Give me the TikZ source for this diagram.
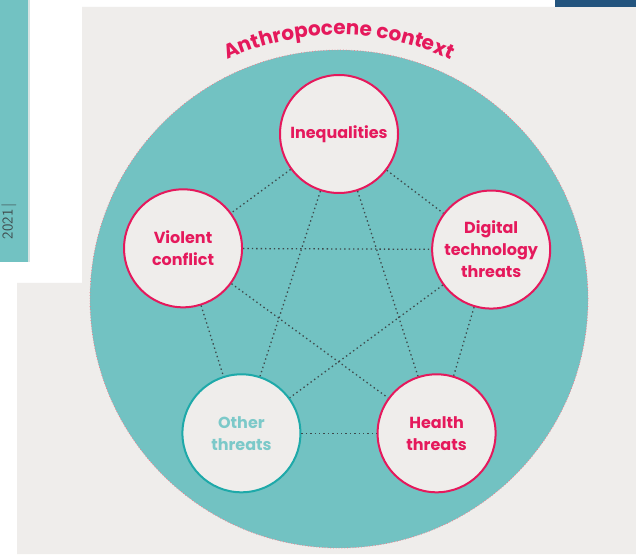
\documentclass[tikz,border=0pt]{standalone}
\usepackage{fontspec}
\setmainfont{Poppins}
\usetikzlibrary{calc,decorations.text}

\definecolor{magred}{HTML}{E5195C}
\definecolor{seateal}{HTML}{72C2C2}
\definecolor{ringteal}{HTML}{1EA9A9}
\definecolor{othertxt}{HTML}{7CC9C9}
\definecolor{paper}{HTML}{EFEDEB}
\definecolor{linegray}{HTML}{3E4A4C}
\definecolor{rimpink}{HTML}{EE7F8E}
\definecolor{inkblue}{HTML}{23547E}

\tikzset{
  threat/.style={circle,draw=magred,line width=2pt,fill=paper,minimum size=118pt,
    inner sep=0pt,align=center,text=magred,font=\fontsize{16}{22}\selectfont\bfseries},
  link/.style={dash pattern=on 1.4pt off 3pt,line width=1.3pt,draw=linegray}
}

\begin{document}
\begin{tikzpicture}[x=1pt,y=1pt]
            \useasboundingbox (0,0) rectangle (636,554);
            \fill [white] (0,0) rectangle (636,554);
            % page panels
            \fill [paper] (82,547) -- (636,547) -- (636,0) -- (17,0) -- (17,271) -- (82,271) -- cycle;
            \fill [paper!80!seateal] (0,292) rectangle (30,554);
            \fill [seateal] (0,292) rectangle (28,554);
            \fill [inkblue] (555,547) rectangle (636,554);
            \node [rotate=90,text=linegray,font=\sffamily\fontsize{15}{15}\selectfont] (year) at (9,333) {2021\,|};
            % context
            \coordinate (ctr) at (339,255);
            \fill [seateal] (ctr) circle [radius=249];
            \draw [rimpink,dotted,line width=0.8pt] (ctr) circle [radius=249];
            \path [decorate,decoration={text along path,text align=center,text color=magred,
                text={|\fontsize{20}{20}\selectfont\bfseries|Anthropocene context}}]
                ($(ctr)+(126:264)$) arc [start angle=126,end angle=54,radius=264];
            % threats
            \node [threat] (ineq) at ($(ctr)+(90:165)$) {Inequalities};
            \node [threat] (viol) at ($(ctr)+(162:164)$) {Violent\\conflict};
            \node [threat] (digi) at ($(ctr)+(18:160)$) {Digital\\technology\\threats};
            \node [threat,draw=ringteal,text=othertxt] (other) at ($(ctr)+(234:166)$) {Other\\threats};
            \node [threat] (health) at ($(ctr)+(306:166)$) {Health\\threats};
            \foreach \a/\b in {ineq/viol,ineq/digi,ineq/other,ineq/health,viol/digi,
                viol/other,viol/health,digi/other,digi/health,other/health}
                \draw [link] (\a) -- (\b);
        \end{tikzpicture}
\end{document}
